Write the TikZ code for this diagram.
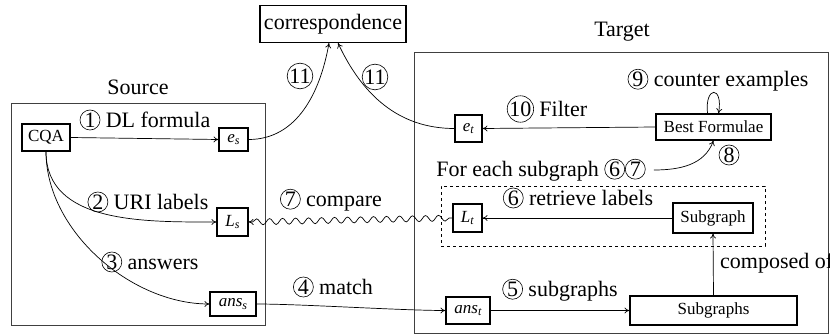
\documentclass[tikz,border=0pt]{standalone}
\usepackage{fontspec}
\setmainfont{Liberation Serif}
\usetikzlibrary{decorations.pathmorphing,arrows.meta}
\newcommand{\cn}[1]{\tikz[baseline=(cn.base)]\node[draw,circle,inner sep=0pt,minimum size=20pt,line width=0.6pt] (cn) {#1};}
\newcommand{\msub}[2]{\textit{#1}\raisebox{-0.35ex}{\fontsize{12}{12}\selectfont\textit{#2}}}
\begin{document}
\begin{tikzpicture}[x=1pt,y=1pt,
  box/.style={draw, line width=1.1pt, font=\fontsize{17}{19}\selectfont, inner sep=0pt},
  lbl/.style={font=\fontsize{22}{24}\selectfont, inner sep=0pt},
  cont/.style={draw, line width=0.8pt, black!75, inner sep=0pt},
  arr/.style={-{To[length=5pt,width=6pt]}, line width=0.7pt}]
\useasboundingbox (0,0) rectangle (830,-334);
% containers
\node[cont, minimum width=254, minimum height=222] (src) at (138,-214) {};
\node[cont, minimum width=414, minimum height=281] (tgt) at (621,-192.5) {};
\node[cont, dashed, black, minimum width=324, minimum height=60] (dbox) at (603,-216) {};
\node[lbl] (srclbl) at (138,-87) {Source};
\node[lbl] (tgtlbl) at (622,-32) {Target};
% nodes
\node[box, font=\fontsize{22}{24}\selectfont, minimum width=146, minimum height=37] (corr) at (333,-24) {correspondence};
\node[box, minimum width=48, minimum height=27] (cqa) at (46,-137.5) {CQA};
\node[box, minimum width=29, minimum height=23] (es) at (233.5,-139.5) {\msub{e}{s}};
\node[box, minimum width=31, minimum height=28] (ls) at (232.5,-222) {\msub{L}{s}};
\node[box, minimum width=46, minimum height=24] (anss) at (233,-304) {\msub{ans}{s}};
\node[box, minimum width=27, minimum height=27] (et) at (468.5,-128.5) {\msub{e}{t}};
\node[box, minimum width=115, minimum height=26] (best) at (713.5,-127) {Best Formulae};
\node[box, minimum width=29, minimum height=28] (lt) at (467.5,-218) {\msub{L}{t}};
\node[box, minimum width=80, minimum height=30] (subg) at (713,-218) {Subgraph};
\node[box, minimum width=167, minimum height=29] (subgs) at (713.5,-310.5) {Subgraphs};
\node[box, minimum width=44, minimum height=27] (anst) at (468,-310.5) {\msub{ans}{t}};
% labels
\node[lbl] (l1) at (145,-120) {\cn{1} DL formula};
\node[lbl] (l2) at (148,-202) {\cn{2} URI labels};
\node[lbl] (l3) at (150,-262) {\cn{3} answers};
\node[lbl] (l4) at (333,-287) {\cn{4} match};
\node[lbl] (l7) at (331,-200) {\cn{7} compare};
\node[lbl] (l11a) at (300,-76) {\cn{11}};
\node[lbl] (l11b) at (375,-77) {\cn{11}};
\node[lbl] (l10) at (547,-109) {\cn{10} Filter};
\node[lbl] (l9) at (718,-80) {\cn{9} counter examples};
\node[lbl] (l8) at (729,-155) {\cn{8}};
\node[lbl] (fe) at (541,-170) {For each subgraph \cn{6}\cn{7}};
\node[lbl] (l6) at (578,-198) {\cn{6} retrieve labels};
\node[lbl] (l5) at (560,-290) {\cn{5} subgraphs};
\node[lbl, anchor=west] (comp) at (720,-263) {composed of};
% connectors
\draw[arr] (cqa.east) -- (es.west);
\draw[arr] (cqa.south) to[out=-90,in=180] (ls.west);
\draw[arr] (cqa.south) to[out=-90,in=180,looseness=0.9] (anss.west);
\draw[arr] (es.east) to[out=0,in=-100] ([xshift=-4pt]corr.south);
\draw[arr] (et.west) to[out=180,in=-65] ([xshift=5pt]corr.south);
\draw[arr] (best.west) -- (et.east);
\draw[arr] ([xshift=-6pt]best.north) .. controls +(-3,28) and +(5,28) .. ([xshift=5pt]best.north);
\draw[arr] ([xshift=8pt]fe.east) to[out=0,in=-110] (best.south);
\draw[arr] (subg.west) -- (lt.east);
\draw[arr] (subgs.north) -- (subg.south);
\draw[arr] (anst.east) -- (subgs.west);
\draw[arr] (anss.east) to[out=0,in=180,looseness=0.6] (anst.west);
\draw[{To[length=5pt,width=6pt]}-, line width=0.7pt, decorate,
  decoration={snake, amplitude=3pt, segment length=13pt, pre length=4pt, post length=2pt}]
  (ls.east) -- (lt.west);
\end{tikzpicture}
\end{document}
